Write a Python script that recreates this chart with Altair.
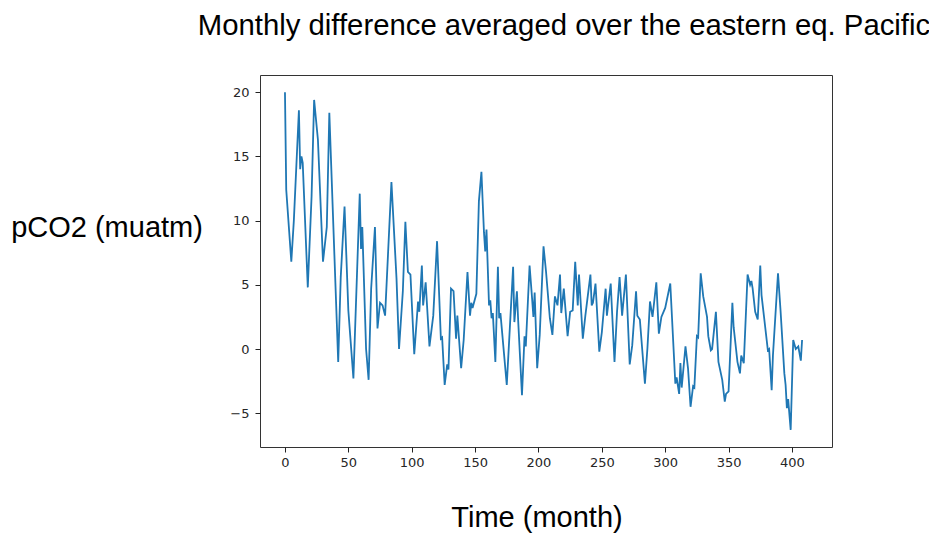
import altair as alt
import pandas as pd

# Turning points (month, pCO2 difference in muatm)
months = [0, 1, 5, 7, 11, 12, 13, 14, 18, 21, 23, 26, 30, 33, 35, 42, 44, 47, 50, 54,
          59, 60, 61, 64, 66, 68, 71, 73, 75, 77, 79, 84, 88, 90, 93, 95, 97, 99, 102, 105,
          106, 108, 109, 111, 114, 117, 120, 123, 124, 126, 128, 129, 131, 133, 135, 136, 139, 141, 144, 146,
          147, 148, 151, 153, 155, 157, 158, 159, 161, 162, 163, 164, 166, 168, 169, 170, 175, 180, 181, 183,
          184, 187, 189, 190, 193, 195, 196, 197, 199, 201, 204, 206, 209, 211, 213, 215, 217, 218, 220, 223,
          225, 227, 229, 231, 232, 235, 237, 241, 242, 243, 245, 248, 250, 253, 254, 257, 260, 262, 264, 266,
          269, 272, 274, 277, 278, 280, 284, 286, 288, 290, 293, 295, 297, 300, 304, 308, 309, 311, 312, 313,
          316, 318, 320, 322, 323, 325, 326, 328, 330, 333, 334, 336, 337, 340, 342, 345, 347, 348, 350, 353,
          354, 357, 359, 360, 362, 365, 367, 368, 369, 371, 373, 375, 376, 381, 382, 384, 385, 389, 391, 394,
          395, 396, 397, 399, 401, 403, 405, 407, 408]
values = [20.0, 12.4, 6.8, 10.0, 18.6, 14.0, 15.0, 14.5, 4.8, 11.9, 19.4, 16.3, 6.8, 9.5, 18.4, -1.0, 5.6, 11.1, 3.0, -2.3,
          12.1, 7.8, 9.5, 0.0, -2.4, 4.7, 9.5, 1.6, 3.6, 3.4, 2.6, 13.0, 5.5, 0.0, 4.5, 9.9, 6.0, 5.8, -0.4, 3.7,
          2.9, 6.5, 3.4, 5.2, 0.2, 2.6, 8.4, 0.8, 0.9, -2.8, -1.2, -1.6, 4.7, 4.5, 0.8, 2.6, -1.5, 0.7, 6.0, 2.6,
          3.6, 3.2, 4.3, 11.5, 13.8, 9.1, 7.6, 9.3, 3.4, 3.8, 2.4, 2.8, -1.0, 6.4, 2.4, 2.8, -2.8, 6.4, 2.1, 4.5,
          2.2, -3.6, 1.0, 0.2, 6.5, 3.9, 2.5, 4.4, -1.5, 1.1, 8.0, 6.0, 2.4, 1.1, 4.1, 3.4, 5.8, 2.8, 4.7, 1.0,
          2.9, 3.0, 6.8, 3.4, 5.8, 0.8, 2.6, 5.8, 3.4, 3.6, 5.1, -0.2, 1.3, 4.7, 2.6, 5.1, -1.0, 2.9, 5.6, 2.6,
          5.8, -1.2, 0.3, 4.5, 2.6, 2.3, -2.7, 0.1, 3.7, 2.5, 5.2, 1.2, 2.5, 3.2, 5.1, -2.7, -2.2, -3.5, -1.1, -3.0,
          0.2, -1.5, -4.5, -2.9, -3.0, 1.0, 0.9, 5.9, 4.1, 2.5, 1.0, -0.1, 0.0, 2.9, -1.0, -2.4, -4.1, -3.5, -3.3, 3.6,
          1.7, -1.0, -1.9, -0.5, -1.1, 5.8, 5.0, 5.3, 4.7, 2.9, 2.3, 6.5, 4.2, -0.1, 0.0, -3.2, -0.5, 5.9, 3.0, -1.9,
          -2.8, -4.6, -3.9, -6.3, 0.7, 0.0, 0.2, -0.9, 0.7]

x_ticks = [0, 50, 100, 150, 200, 250, 300, 350, 400]
y_ticks = [-5, 0, 5, 10, 15, 20]

title_text = ["Monthly difference averaged over the eastern eq. Pacific"]
y_label = ["pCO2 (muatm)"]
x_label = ["Time (month)"]

df = pd.DataFrame({"month": months, "value": values})

axis_common = dict(grid=False, domain=False, tickColor="#222", tickSize=5, tickWidth=1,
                   labelFont="DejaVu Sans", labelFontSize=13, labelColor="#262626", title=None)

line = alt.Chart(df).mark_line(color="#1f77b4", strokeWidth=1.8).encode(
    x=alt.X("month:Q", scale=alt.Scale(domain=[-19.7, 431.6], nice=False, zero=False),
            axis=alt.Axis(values=x_ticks, labelPadding=4, **axis_common)),
    y=alt.Y("value:Q", scale=alt.Scale(domain=[-7.63, 21.34], nice=False, zero=False),
            axis=alt.Axis(values=y_ticks, labelPadding=6, **axis_common)),
)

def label(texts, px, py, size=29):
    return alt.Chart(pd.DataFrame({"t": texts})).mark_text(
        font="Liberation Sans", fontSize=size, color="#000", align="center", baseline="alphabetic"
    ).encode(text="t:N", x=alt.value(px), y=alt.value(py))

chart = alt.layer(
    line,
    label(title_text, 304, -40, 29.3),
    label(y_label, -153, 162),
    label(x_label, 277, 452),
).properties(
    width=572, height=372,
    autosize=alt.AutoSizeParams(type="none"),
    padding={"left": 252, "top": 67, "right": 97, "bottom": 86},
).configure_view(stroke="#333", strokeWidth=1)

chart.save("out.html", embed_options={"renderer": "svg", "actions": False})
